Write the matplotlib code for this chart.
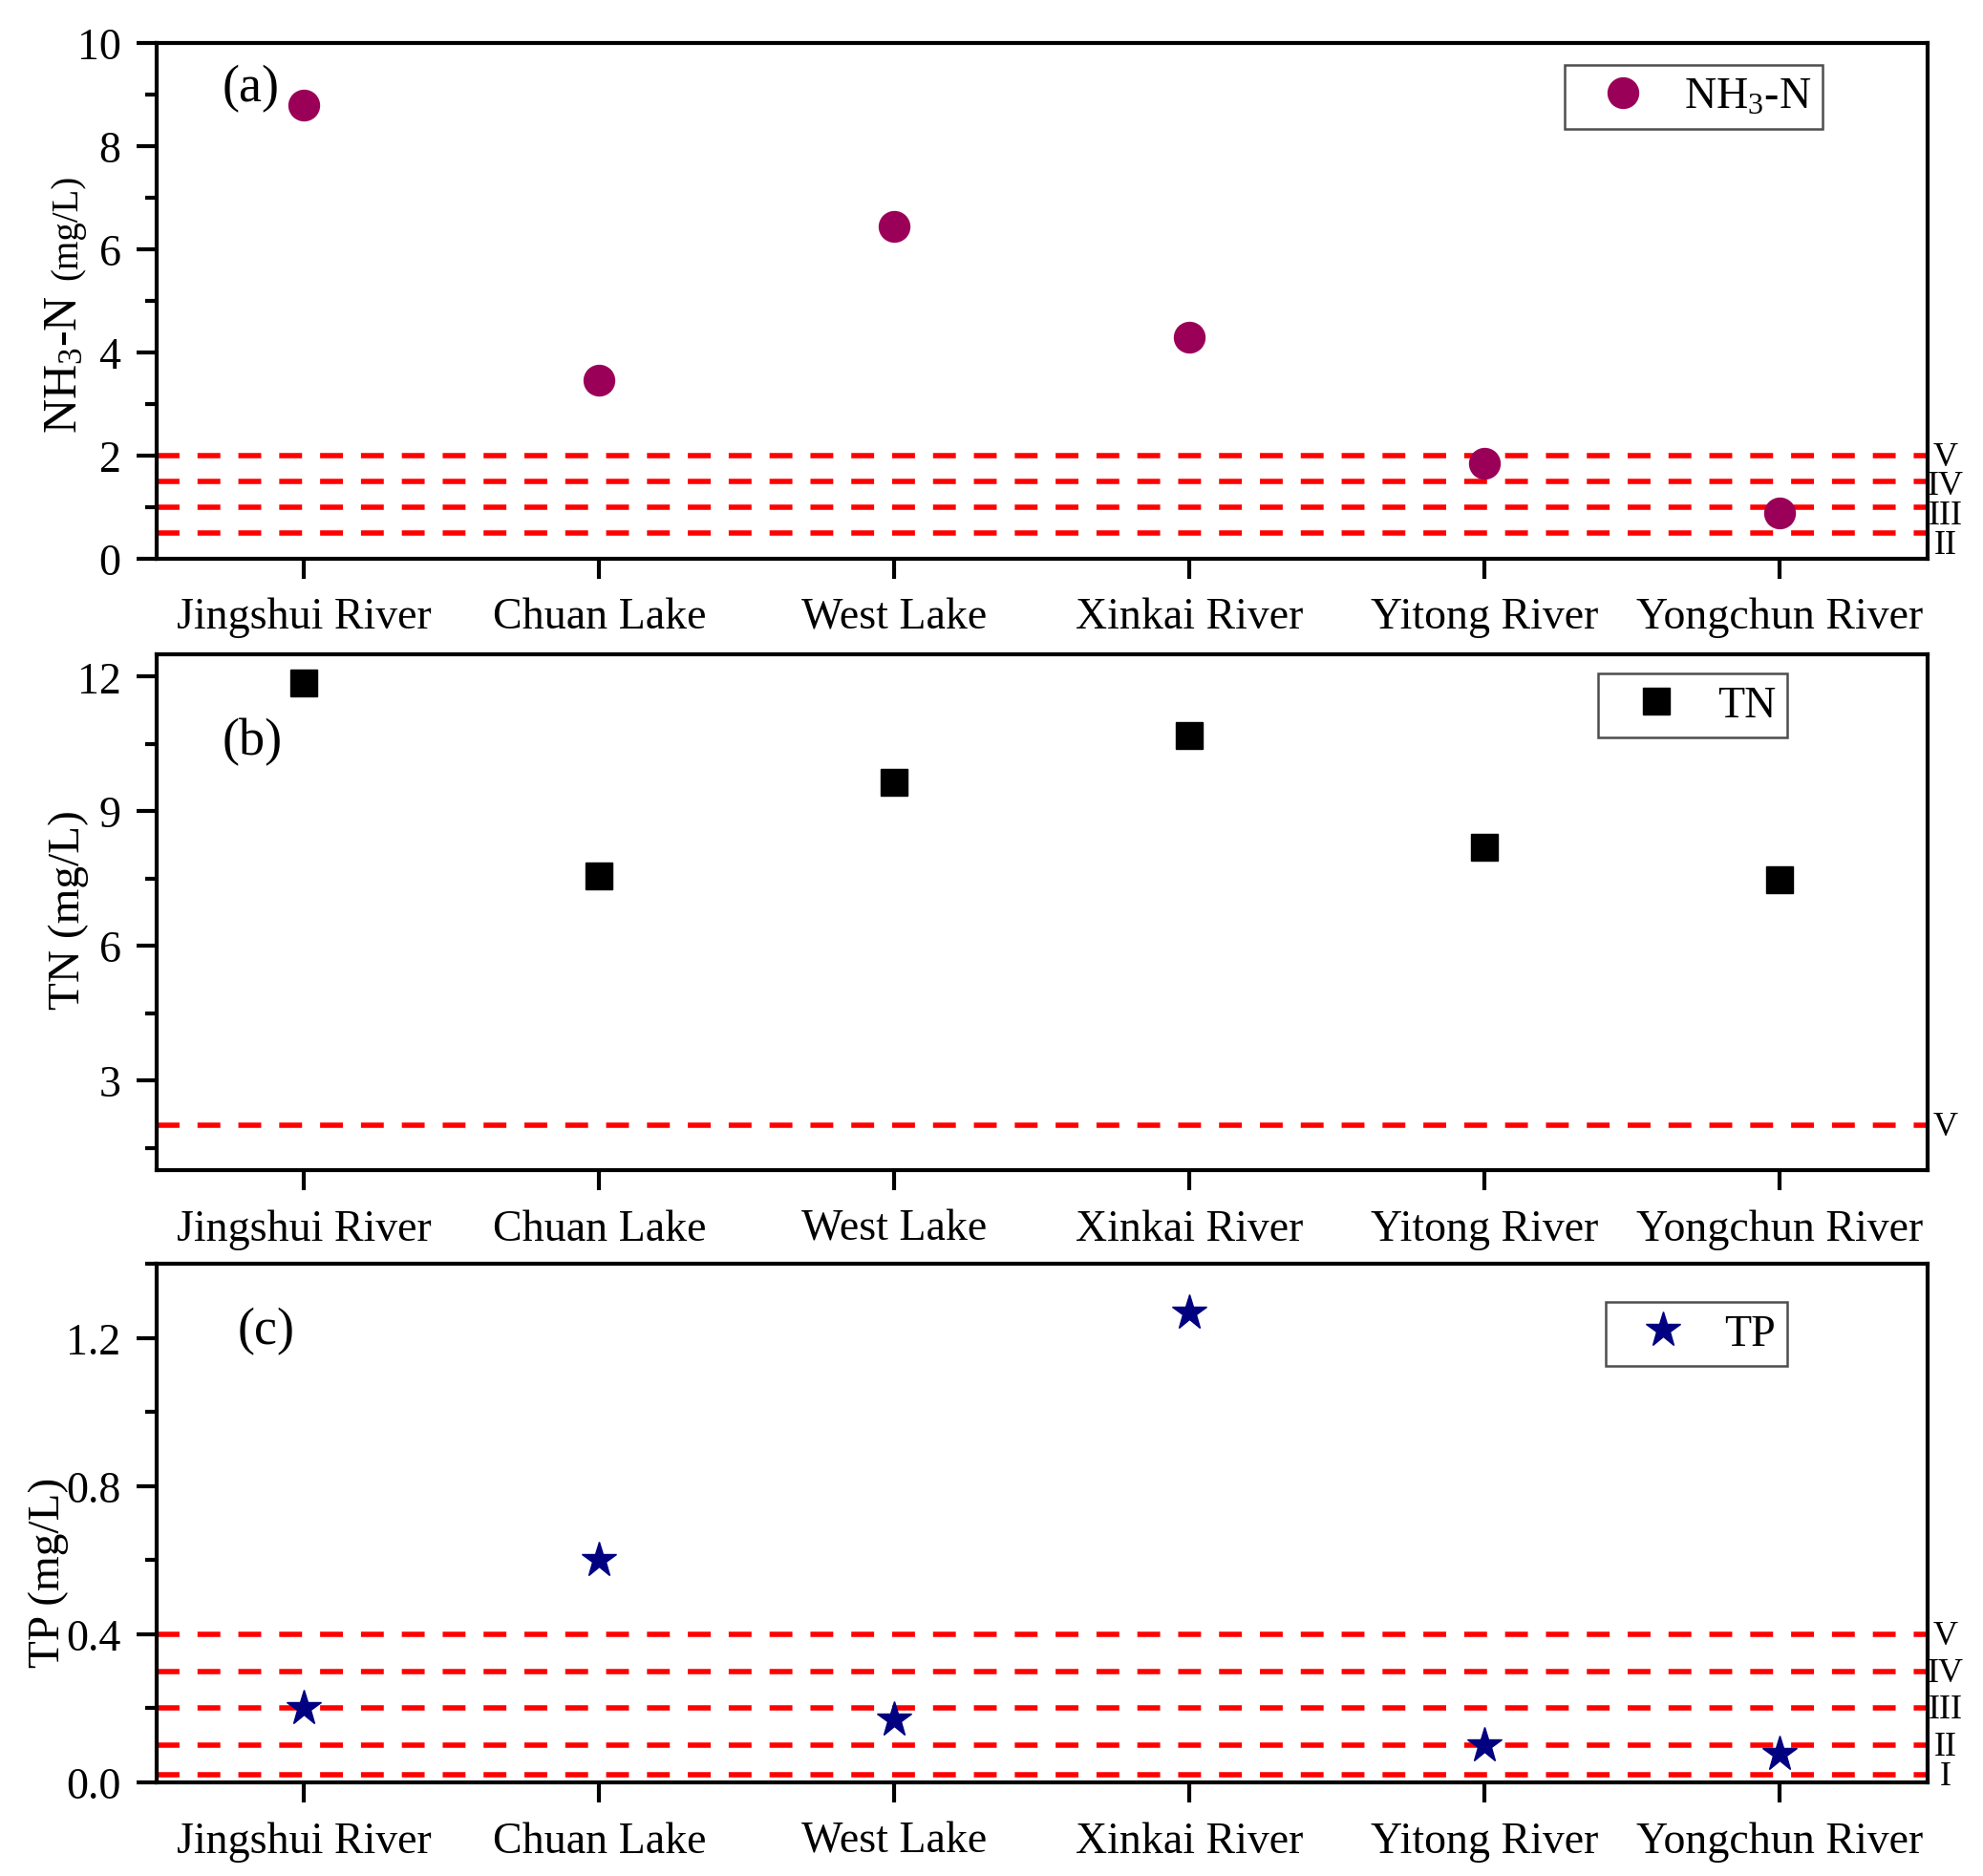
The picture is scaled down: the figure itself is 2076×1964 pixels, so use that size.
import numpy as np
import matplotlib
matplotlib.use("Agg")
import matplotlib.pyplot as plt
from matplotlib.ticker import MultipleLocator, FormatStrFormatter
import matplotlib.transforms as mtransforms

plt.rcParams['font.family'] = ['Liberation Serif', 'DejaVu Serif']
plt.rcParams['mathtext.fontset'] = 'custom'
plt.rcParams['mathtext.rm'] = 'Liberation Serif'
plt.rcParams['mathtext.it'] = 'Liberation Serif:italic'

# data
sites = ["Jingshui River", "Chuan Lake", "West Lake", "Xinkai River", "Yitong River", "Yongchun River"]
nh3 = [8.8, 3.45, 6.45, 4.3, 1.85, 0.88]
tn = [11.85, 7.55, 9.65, 10.68, 8.2, 7.48]
tp = [0.20, 0.60, 0.17, 1.27, 0.10, 0.077]

# water quality class limits
nh3_limits = [2.0, 1.5, 1.0, 0.5]
nh3_classes = ["V", "IV", "III", "II"]
tn_limits = [2.0]
tn_classes = ["V"]
tp_limits = [0.4, 0.3, 0.2, 0.1, 0.02]
tp_classes = ["V", "IV", "III", "II", "I"]

FS = 33
x = np.arange(1, len(sites) + 1)

fig = plt.figure(figsize=(20.76, 19.65), dpi=100)
left, width = 0.079, 0.893
ax_a = fig.add_axes([left, 0.702, width, 0.2745])
ax_b = fig.add_axes([left, 0.376, width, 0.275])
ax_c = fig.add_axes([left, 0.050, width, 0.276])


def style_axes(ax):
    ax.set_xlim(0.5, 6.5)
    ax.set_xticks(x)
    ax.set_xticklabels(sites, fontsize=FS)
    for s in ax.spines.values():
        s.set_linewidth(3.0)
    ax.tick_params(axis='both', which='major', direction='out', length=15, width=3.0,
                   labelsize=FS, pad=12)
    ax.tick_params(axis='x', which='major', pad=14)
    ax.tick_params(axis='y', which='minor', direction='out', length=9, width=3.0)
    ax.tick_params(axis='x', which='minor', bottom=False)


def draw_limits(ax, limits, classes, step=0.0):
    trans = mtransforms.blended_transform_factory(ax.transAxes, ax.transData)
    for i, (lim, cl) in enumerate(zip(limits, classes)):
        ax.axhline(lim, color='#FF0000', lw=4, dashes=(4.3, 3.4), zorder=1)
        t = mtransforms.offset_copy(trans, fig=fig, x=0, y=-1.2 - step * i, units='points')
        ax.text(1.010, lim, cl, transform=t, ha='center', va='center',
                fontsize=26, clip_on=False)


def add_legend(ax, anchor):
    leg = ax.legend(loc='upper right', bbox_to_anchor=anchor, fontsize=FS,
                    frameon=True, fancybox=False, edgecolor='#222222', numpoints=1,
                    handlelength=2.1, handletextpad=0.35, borderpad=0.27,
                    borderaxespad=0)
    leg.get_frame().set_linewidth(1.8)


# (a) NH3-N
draw_limits(ax_a, nh3_limits, nh3_classes, step=2.6)
ax_a.plot(x, nh3, 'o', color='#9B0059', markersize=23, ls='none',
          label=r"NH$_3$-N", zorder=3)
ax_a.set_ylim(0, 10)
ax_a.yaxis.set_major_locator(MultipleLocator(2))
ax_a.yaxis.set_minor_locator(MultipleLocator(1))
style_axes(ax_a)
ax_a.text(0.053, 0.914, "(a)", transform=ax_a.transAxes, ha='center', va='center', fontsize=39)
add_legend(ax_a, (0.941, 0.958))

# (b) TN
draw_limits(ax_b, tn_limits, tn_classes)
ax_b.plot(x, tn, 's', color='black', markersize=20, ls='none', label="TN", zorder=3)
ax_b.set_ylim(1.0, 12.5)
ax_b.yaxis.set_major_locator(MultipleLocator(3))
ax_b.yaxis.set_minor_locator(MultipleLocator(1.5))
style_axes(ax_b)
ax_b.text(0.054, 0.831, "(b)", transform=ax_b.transAxes, ha='center', va='center', fontsize=39)
add_legend(ax_b, (0.921, 0.963))

# (c) TP
draw_limits(ax_c, tp_limits, tp_classes)
ax_c.plot(x, tp, '*', color='#000080', markersize=28, ls='none', label="TP", zorder=3)
ax_c.set_ylim(0, 1.4)
ax_c.yaxis.set_major_locator(MultipleLocator(0.4))
ax_c.yaxis.set_minor_locator(MultipleLocator(0.2))
ax_c.yaxis.set_major_formatter(FormatStrFormatter('%.1f'))
style_axes(ax_c)
ax_c.text(0.062, 0.871, "(c)", transform=ax_c.transAxes, ha='center', va='center', fontsize=39)
add_legend(ax_c, (0.921, 0.927))

# y labels placed by hand like the original
fig.text(0.0385, 0.806, r"NH$_3$-N", rotation=90, rotation_mode='anchor',
         ha='center', va='baseline', fontsize=36)
fig.text(0.0385, 0.879, "(mg/L)", rotation=90, rotation_mode='anchor',
         ha='center', va='baseline', fontsize=28)
fig.text(0.040, 0.515, "TN (mg/L)", rotation=90, rotation_mode='anchor',
         ha='center', va='baseline', fontsize=34)
fig.text(0.030, 0.162, "TP (mg/L)", rotation=90, rotation_mode='anchor',
         ha='center', va='baseline', fontsize=34)

fig.savefig("out.png", dpi=100, facecolor='white')
